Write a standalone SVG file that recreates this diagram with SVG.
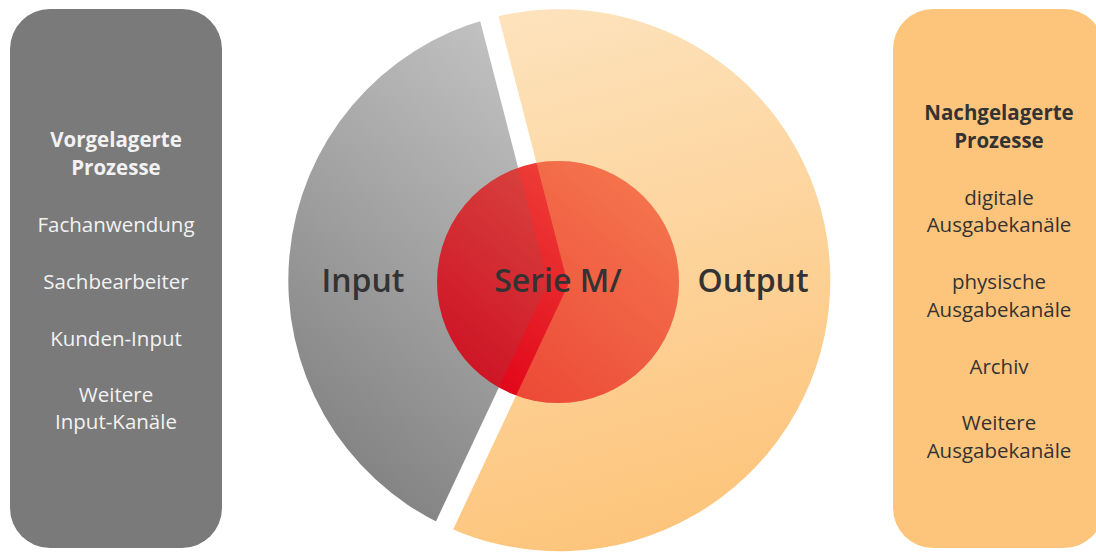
<svg xmlns="http://www.w3.org/2000/svg" width="1096" height="552" viewBox="0 0 1096 552">
  <style>
    .lt { font-family: "Open Sans", "Liberation Sans", sans-serif; font-size: 20.5px; text-anchor: middle; fill: #f2f2f2; }
    .rt { font-family: "Open Sans", "Liberation Sans", sans-serif; font-size: 20.5px; text-anchor: middle; fill: #333333; }
    .b { font-weight: 700; }
    .big { font-family: "Open Sans", "Liberation Sans", sans-serif; font-size: 32px; font-weight: 600; text-anchor: middle; fill: #333333; }
  </style>
  <defs>
    <linearGradient id="gIn" x1="0.75" y1="0" x2="0.3" y2="1">
      <stop offset="0" stop-color="#c2c2c2"/>
      <stop offset="1" stop-color="#7f7f7f"/>
    </linearGradient>
    <linearGradient id="gOut" x1="0.3" y1="0" x2="0.5" y2="1">
      <stop offset="0" stop-color="#fde2bb"/>
      <stop offset="1" stop-color="#fdc47a"/>
    </linearGradient>
    <linearGradient id="gCore" x1="0.85" y1="0.1" x2="0.2" y2="0.9">
      <stop offset="0" stop-color="#f04a3e"/>
      <stop offset="1" stop-color="#e2061a"/>
    </linearGradient>
    <path id="pIn" d="M 558 284 L 489.3 18.4 A 271 271 0 0 0 443.7 525.3 Z"/>
    <path id="pOut" d="M 558 284 L 489.3 18.4 A 271 271 0 1 1 443.7 525.3 Z"/>
    <mask id="gap" maskUnits="userSpaceOnUse" x="0" y="0" width="1096" height="552">
      <rect x="0" y="0" width="1096" height="552" fill="#fff"/>
      <polyline points="483,-6 558,284 433,550" fill="none" stroke="#000" stroke-width="19" stroke-linejoin="miter"/>
    </mask>
    <clipPath id="coreClip">
      <circle cx="558" cy="282" r="121"/>
    </clipPath>
  </defs>

  <g id="vorgelagerte">
    <rect x="10" y="9" width="212" height="539" rx="40" ry="40" fill="#7a7a7a"/>
    <text class="lt b" x="116" y="147">Vorgelagerte</text>
    <text class="lt b" x="116" y="175">Prozesse</text>
    <text class="lt" x="116" y="232">Fachanwendung</text>
    <text class="lt" x="116" y="289">Sachbearbeiter</text>
    <text class="lt" x="116" y="346">Kunden-Input</text>
    <text class="lt" x="116" y="402">Weitere</text>
    <text class="lt" x="116" y="429">Input-Kanäle</text>
  </g>

  <g id="nachgelagerte">
    <rect x="893" y="9" width="211" height="539" rx="40" ry="40" fill="#fdc57b"/>
    <text class="rt b" x="999" y="120">Nachgelagerte</text>
    <text class="rt b" x="999" y="148">Prozesse</text>
    <text class="rt" x="999" y="205">digitale</text>
    <text class="rt" x="999" y="232">Ausgabekanäle</text>
    <text class="rt" x="999" y="289">physische</text>
    <text class="rt" x="999" y="317">Ausgabekanäle</text>
    <text class="rt" x="999" y="374">Archiv</text>
    <text class="rt" x="999" y="430">Weitere</text>
    <text class="rt" x="999" y="458">Ausgabekanäle</text>
  </g>

  <g id="output" mask="url(#gap)">
    <use href="#pOut" fill="url(#gOut)"/>
  </g>
  <g id="input" mask="url(#gap)">
    <use href="#pIn" fill="url(#gIn)"/>
  </g>

  <g id="serie">
    <circle cx="558" cy="282" r="121" fill="url(#gCore)"/>
    <g clip-path="url(#coreClip)" mask="url(#gap)">
      <use href="#pIn" fill="#6a6a6a" fill-opacity="0.16"/>
      <use href="#pOut" fill="#fdbf6a" fill-opacity="0.36"/>
    </g>
  </g>

  <g id="labels">
    <text class="big" x="363" y="292">Input</text>
    <text class="big" x="558" y="292">Serie M/</text>
    <text class="big" x="753" y="292">Output</text>
  </g>
</svg>
